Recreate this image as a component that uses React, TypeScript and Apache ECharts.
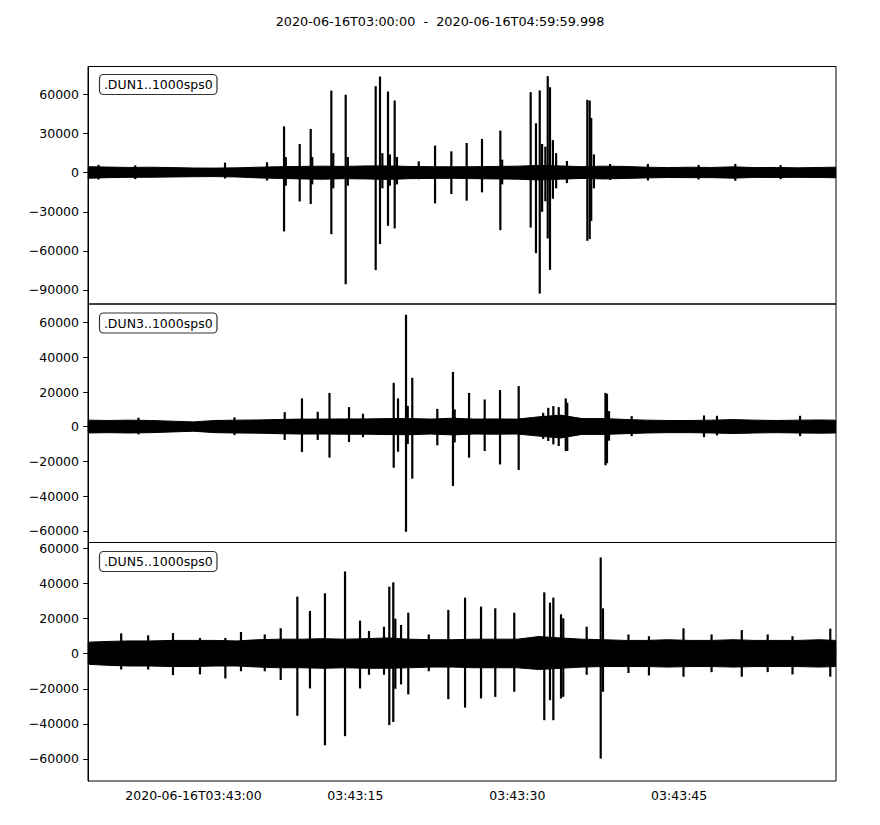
import React, { useEffect, useRef } from "react";
import * as echarts from "echarts";

const TITLE = "2020-06-16T03:00:00  -  2020-06-16T04:59:59.998";
const TRACE_LABELS = [".DUN1..1000sps0", ".DUN3..1000sps0", ".DUN5..1000sps0"];

// time axis: seconds after 2020-06-16T03:42:50
const X_MIN = 0.225;
const X_MAX = 69.53;
const X_TICK_VALUES = [10, 25, 40, 55];
const X_TICK_LABELS = ["2020-06-16T03:43:00", "03:43:15", "03:43:30", "03:43:45"];

const Y_TICKS_1 = [-90000, -60000, -30000, 0, 30000, 60000];
const Y_TICKS_2 = [-60000, -40000, -20000, 0, 20000, 40000, 60000];
const Y_TICKS_3 = [-60000, -40000, -20000, 0, 20000, 40000, 60000];
const Y_MIN = [-100800, -66670, -72570];
const Y_MAX = [81500, 70690, 63430];

// background noise envelope (read every ~2 s)
const NOISE_TIMES = [0.25, 2, 4, 6, 8, 10, 12, 14, 16, 18, 20, 22, 24, 26, 28, 30, 32, 34, 36, 38, 40, 42, 44, 46, 48, 50, 52, 54, 56, 58, 60, 62, 64, 66, 68, 69.5];

const NOISE_UP_1 = [4600, 4300, 4000, 4200, 3900, 3600, 3500, 3700, 4200, 4600, 4800, 5000, 4800, 5200, 5200, 4800, 4600, 4500, 4600, 4800, 5000, 5600, 5200, 4600, 5000, 4800, 4200, 3900, 4200, 4000, 4500, 3900, 4000, 3700, 4000, 4200];
const NOISE_LO_1 = [-4300, -3800, -3600, -3500, -3300, -3100, -3000, -3300, -4000, -4400, -4800, -5000, -4600, -4800, -5200, -4600, -4400, -4300, -4600, -4800, -5000, -5600, -5000, -4400, -4800, -4400, -4000, -3700, -3800, -3800, -4200, -3600, -3700, -3600, -3700, -3900];

const NOISE_UP_2 = [3800, 3600, 3800, 3600, 3200, 2800, 3600, 3800, 3900, 4200, 4400, 4400, 4500, 4500, 4700, 4700, 4400, 4900, 4400, 4500, 4400, 5700, 6700, 4700, 4700, 4200, 3800, 3600, 3600, 3800, 4100, 3800, 3600, 3800, 3900, 3800];
const NOISE_LO_2 = [-3600, -3400, -3600, -3400, -3000, -2600, -3400, -3600, -3700, -4000, -4200, -4200, -4300, -4300, -4500, -4600, -4200, -4700, -4200, -4300, -4200, -5400, -6500, -4400, -4400, -4000, -3600, -3400, -3400, -3600, -3900, -3600, -3400, -3600, -3700, -3600];

const NOISE_UP_3 = [6600, 7000, 7300, 7300, 7600, 7600, 7600, 7300, 8000, 8300, 8300, 8600, 8300, 8600, 9000, 8300, 8000, 8000, 8300, 8300, 8300, 9800, 9000, 8300, 8000, 7600, 7600, 8000, 7600, 7600, 8000, 7600, 7600, 7600, 8000, 7600];
const NOISE_LO_3 = [-6000, -6600, -7000, -7000, -7300, -7300, -7000, -7000, -7600, -8000, -8000, -8300, -8000, -8300, -8300, -8000, -7600, -7600, -8000, -8000, -8000, -9000, -8300, -7600, -7300, -7300, -7300, -7600, -7300, -7300, -7600, -7300, -7300, -7300, -7600, -7300];

// spikes and bursts: [time s, max, min]
const SPIKES_1 = [
  [1.2, 6000, -5200], [4.6, 5600, -5000], [12.92, 7700, -4500], [16.81, 8000, -6000],
  [18.39, 35600, -45100], [18.55, 12000, -10000],
  [19.84, 22000, -22100], [20.86, 33600, -24100], [21.0, 12000, -9000],
  [22.77, 63000, -47200], [22.95, 15000, -12000],
  [24.10, 59800, -85600], [24.3, 12000, -10000],
  [26.88, 66400, -74800], [27.28, 73800, -54800], [27.5, 15000, -12000],
  [28.02, 62300, -40800], [28.2, 14000, -10000], [28.64, 55400, -42800], [28.85, 12000, -9000],
  [30.87, 8700, -5000],
  [32.38, 20800, -23600], [33.89, 16400, -16400], [35.31, 22800, -21500], [36.73, 25900, -15100],
  [38.43, 32300, -44100], [38.6, 10000, -9000],
  [41.24, 61800, -42100], [41.73, 37900, -61800], [42.08, 63100, -92800], [42.3, 22000, -30000],
  [42.6, 20000, -22000], [42.82, 74100, -50500], [43.03, 65600, -74600], [43.3, 25000, -20000], [43.6, 15000, -12000],
  [44.6, 9000, -8000],
  [46.49, 55900, -52300], [46.71, 55400, -51000], [46.85, 42000, -37000], [47.1, 14000, -12000],
  [48.6, 6700, -5600], [52.1, 6700, -6000], [56.8, 6000, -5200], [60.2, 6700, -6200], [64.4, 5800, -5000],
];

const SPIKES_2 = [
  [4.9, 5200, -4400], [13.8, 5400, -4800],
  [18.45, 8400, -7600], [20.05, 16300, -14500], [21.51, 8600, -7600],
  [22.60, 19500, -17800], [24.41, 11300, -8800], [25.7, 7500, -6000],
  [28.55, 25300, -23600], [28.95, 16300, -14400], [29.69, 64500, -60500], [29.85, 12000, -10000],
  [30.27, 28200, -29900], [32.59, 10300, -10700], [34.04, 31600, -34100], [34.2, 10000, -9000],
  [35.53, 19500, -17800], [36.98, 15700, -14000], [38.40, 21100, -21700], [40.13, 23400, -24900],
  [42.4, 8000, -7000], [42.87, 10900, -8200], [43.34, 11900, -10200], [43.84, 11300, -11100],
  [44.49, 16300, -14000], [44.63, 13800, -14000],
  [48.17, 19500, -22200], [48.31, 19000, -21000], [48.5, 9000, -8000],
  [50.6, 6100, -5400], [57.3, 6500, -6000], [58.5, 6300, -5000], [66.2, 6300, -5400],
];

const SPIKES_3 = [
  [3.3, 11600, -9000], [5.8, 10500, -9000], [8.1, 11800, -12200], [10.6, 9000, -11800],
  [12.95, 9000, -14100], [14.4, 12400, -10000], [16.6, 11000, -10000],
  [18.08, 14500, -15000], [19.62, 32600, -35400], [20.79, 24400, -19800],
  [22.18, 34500, -52200], [24.04, 46900, -47000], [25.43, 18900, -19800],
  [26.26, 13000, -12000], [27.65, 15400, -12000],
  [28.14, 38300, -40700], [28.51, 40700, -38900], [28.7, 20000, -20000],
  [29.23, 16400, -17500], [29.90, 23400, -23200], [31.8, 11000, -10000],
  [33.61, 25000, -25900], [35.16, 32000, -30700], [36.64, 26900, -25500],
  [37.96, 25900, -24600], [39.72, 23400, -21700],
  [42.50, 35000, -37900], [43.03, 29100, -26500], [43.34, 32000, -37900],
  [44.05, 22500, -25500], [44.26, 20200, -24600],
  [46.43, 15400, -12000], [47.73, 54900, -59800], [47.94, 25900, -21700],
  [50.3, 11000, -11000], [52.2, 10000, -12400], [55.4, 14500, -13100], [58.0, 11000, -10500],
  [60.8, 13500, -13100], [63.2, 11000, -10500], [65.5, 10000, -11800], [69.0, 14300, -13100],
];

const NOISE_UP = [NOISE_UP_1, NOISE_UP_2, NOISE_UP_3];
const NOISE_LO = [NOISE_LO_1, NOISE_LO_2, NOISE_LO_3];
const SPIKES = [SPIKES_1, SPIKES_2, SPIKES_3];
const Y_TICKS = [Y_TICKS_1, Y_TICKS_2, Y_TICKS_3];

const FONT = '"DejaVu Sans", Verdana, sans-serif';
const GRIDS = [
  { top: 66.5, height: 237.5 },
  { top: 304, height: 238.5 },
  { top: 542.5, height: 238.5 },
];
const BOX_TOPS = [74.5, 313, 551.5];

const fmtY = (v: number) => (v < 0 ? "\u2212" + String(-v) : String(v));

export default function App() {
  const ref = useRef<HTMLDivElement>(null);
  useEffect(() => {
    if (!ref.current) return;
    const chart = echarts.init(ref.current, undefined, { renderer: "svg" });

    const grid = GRIDS.map((g) => ({
      left: 88,
      width: 748,
      top: g.top,
      height: g.height,
      show: true,
      borderColor: "#000",
      borderWidth: 1,
      backgroundColor: "transparent",
      containLabel: false,
    }));

    const xAxis = GRIDS.map((_, i) => ({
      type: "value",
      gridIndex: i,
      min: X_MIN,
      max: X_MAX,
      show: i === 2,
      axisLine: { show: true, lineStyle: { color: "#000", width: 1 } },
      splitLine: { show: false },
      axisTick: {
        show: i === 2,
        length: 4.8,
        lineStyle: { color: "#000", width: 1 },
        customValues: X_TICK_VALUES,
      },
      axisLabel: {
        show: i === 2,
        customValues: X_TICK_VALUES,
        margin: 8,
        color: "#000",
        fontSize: 12.5,
        fontFamily: FONT,
        formatter: (v: number) => {
          const k = X_TICK_VALUES.findIndex((t) => Math.abs(t - v) < 1e-6);
          return k >= 0 ? X_TICK_LABELS[k] : "";
        },
      },
    }));

    const yAxis = GRIDS.map((_, i) => ({
      type: "value",
      gridIndex: i,
      min: Y_MIN[i],
      max: Y_MAX[i],
      axisLine: { show: true, lineStyle: { color: "#000", width: 1 } },
      splitLine: { show: false },
      axisTick: {
        show: true,
        length: 4.8,
        lineStyle: { color: "#000", width: 1 },
        customValues: Y_TICKS[i],
      },
      axisLabel: {
        customValues: Y_TICKS[i],
        margin: 9,
        color: "#000",
        fontSize: 12.5,
        fontFamily: FONT,
        formatter: (v: number) => fmtY(v),
      },
    }));

    const series: any[] = [];
    for (let i = 0; i < 3; i++) {
      const up = NOISE_UP[i];
      const lo = NOISE_LO[i];
      series.push({
        type: "custom",
        xAxisIndex: i,
        yAxisIndex: i,
        silent: true,
        data: [[NOISE_TIMES[0], 0]],
        renderItem: (_p: any, api: any) => {
          const pts: number[][] = [];
          for (let k = 0; k < NOISE_TIMES.length; k++) pts.push(api.coord([NOISE_TIMES[k], up[k]]));
          for (let k = NOISE_TIMES.length - 1; k >= 0; k--) pts.push(api.coord([NOISE_TIMES[k], lo[k]]));
          return {
            type: "polygon",
            shape: { points: pts },
            style: { fill: "#000", stroke: "#000", lineWidth: 1 },
          };
        },
      });
      series.push({
        type: "custom",
        xAxisIndex: i,
        yAxisIndex: i,
        silent: true,
        encode: { x: 0, y: [1, 2] },
        data: SPIKES[i],
        renderItem: (_p: any, api: any) => {
          const t = api.value(0);
          const p1 = api.coord([t, api.value(1)]);
          const p2 = api.coord([t, api.value(2)]);
          return {
            type: "line",
            shape: { x1: p1[0], y1: p1[1], x2: p2[0], y2: p2[1] },
            style: { stroke: "#000", lineWidth: 2.2 },
          };
        },
      });
    }

    const graphic: any[] = [
      {
        type: "text",
        x: 440,
        y: 21,
        z: 100,
        style: {
          text: TITLE,
          font: `12.8px ${FONT}`,
          fill: "#000",
          align: "center",
          verticalAlign: "middle",
        },
      },
    ];
    TRACE_LABELS.forEach((lab, i) => {
      graphic.push({
        type: "rect",
        z: 100,
        shape: { x: 99.5, y: BOX_TOPS[i], width: 117.5, height: 20, r: 4 },
        style: { fill: "#fff", stroke: "#333", lineWidth: 1.2 },
      });
      graphic.push({
        type: "text",
        z: 101,
        x: 158.25,
        y: BOX_TOPS[i] + 10,
        style: {
          text: lab,
          font: `12.5px ${FONT}`,
          fill: "#000",
          align: "center",
          verticalAlign: "middle",
        },
      });
    });

    chart.setOption({
      animation: false,
      backgroundColor: "#fff",
      grid,
      xAxis,
      yAxis,
      series,
      graphic,
    });
    return () => chart.dispose();
  }, []);

  return (
    <div
      ref={ref}
      style={{ position: "absolute", left: 0, top: 0, width: 880, height: 825 }}
    />
  );
}
